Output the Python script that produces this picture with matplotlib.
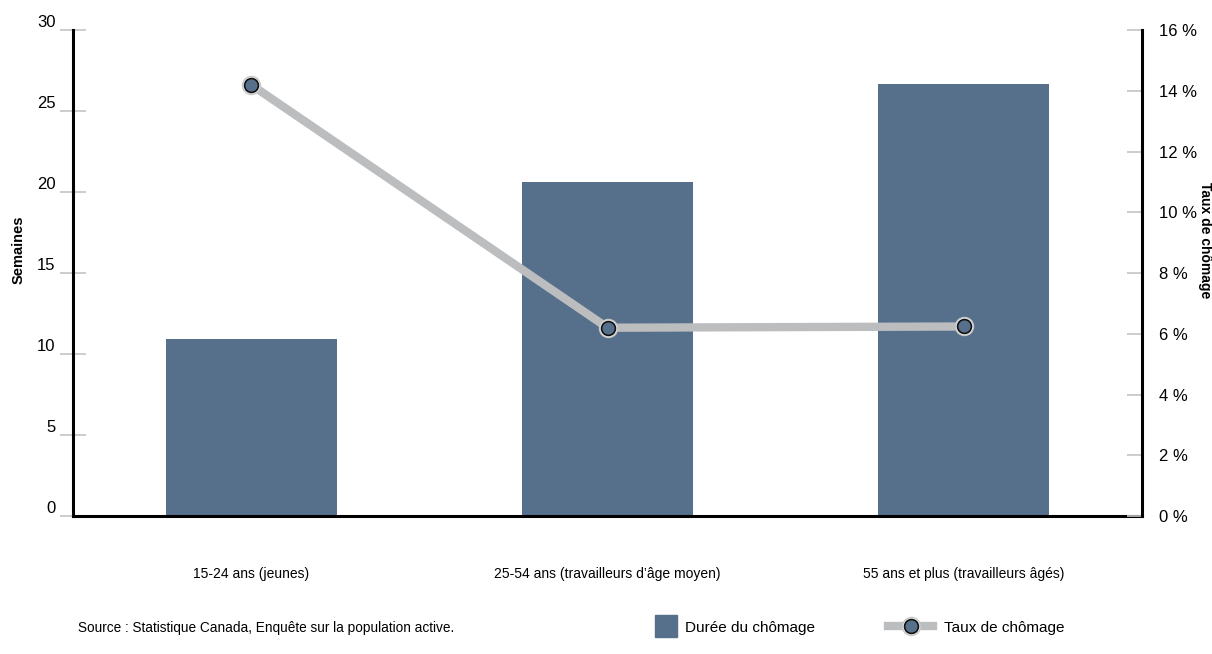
import matplotlib.pyplot as plt
from matplotlib.lines import Line2D
from matplotlib.legend_handler import HandlerTuple

categories = ['15-24 ans (jeunes)', '25-54 ans (travailleurs d\u2019\u00e2ge moyen)', '55 ans et plus (travailleurs \u00e2g\u00e9s)']
duree = [10.9, 20.6, 26.7]      # semaines
taux = [14.2, 6.2, 6.24]        # %
left_ticks = [0, 5, 10, 15, 20, 25, 30]
right_ticks = [0, 2, 4, 6, 8, 10, 12, 14, 16]

BAR = '#566f8a'
LINE = '#bcbdbf'
plt.rcParams['font.family'] = ['Liberation Sans', 'DejaVu Sans']

fig = plt.figure(figsize=(12.12, 6.54), dpi=100)
ax = fig.add_axes([0.0602, 0.211, 0.8821, 0.743])
x = range(len(categories))
bars = ax.bar(x, duree, width=0.48, color=BAR, zorder=2)
ax.set_xlim(-0.5, 2.5)
ax.set_ylim(0, 30)
ax.set_yticks(left_ticks)
ax.set_xticks([])
for s in ['top', 'right']:
    ax.spines[s].set_visible(False)
for s in ['left', 'bottom']:
    ax.spines[s].set_linewidth(2.2)
ax.tick_params(axis='y', direction='inout', length=19, width=1.2, color='#c4c4c4',
               labelsize=12, pad=3)
for lbl in ax.get_yticklabels():
    lbl.set_verticalalignment('bottom')

ax2 = ax.twinx()
ax2.set_ylim(0, 16)
ax2.set_yticks(right_ticks)
ax2.set_yticklabels([f'{t} %' for t in right_ticks])
for s in ['top', 'left', 'bottom']:
    ax2.spines[s].set_visible(False)
ax2.spines['right'].set_linewidth(2.2)
ax2.tick_params(axis='y', direction='in', length=11, width=1.2, color='#c4c4c4',
                labelsize=12, pad=12)
ax2.plot(x, taux, color=LINE, lw=6, solid_capstyle='butt', zorder=3)
ax2.plot(x, taux, 'o', ms=13, mfc='white', mec='#c8c8c8', mew=1, ls='none', zorder=4)
ax2.plot(x, taux, 'o', ms=10, mfc=BAR, mec='#111111', mew=1.2, ls='none', zorder=5)

for i, c in enumerate(categories):
    ax.text(i, -0.12, c, transform=ax.get_xaxis_transform(), ha='center', va='center',
            fontsize=10)

fig.text(0.015, 0.618, 'Semaines', rotation=90, ha='center', va='center',
         fontsize=10.5, fontweight='bold')
fig.text(0.994, 0.633, 'Taux de ch\u00f4mage', rotation=270, ha='center', va='center',
         fontsize=10, fontweight='bold')
fig.text(0.064, 0.04, 'Source : Statistique Canada, Enqu\u00eate sur la population active.',
         ha='left', va='center', fontsize=9.8)

# two separate legends so each handle keeps its own width
h_bar = Line2D([], [], marker='s', ms=16, color=BAR, ls='none')
h_line = (Line2D([], [], color=LINE, lw=6),
          Line2D([], [], marker='o', ms=13, mfc='white', mec='#c8c8c8', ls='none'),
          Line2D([], [], marker='o', ms=10, mfc=BAR, mec='#111111', mew=1.2, ls='none'))
fig.legend([h_bar], ['Dur\u00e9e du ch\u00f4mage'],
           loc='center left', bbox_to_anchor=(0.529, 0.04), frameon=False,
           prop={'size': 11}, handlelength=1.45, handletextpad=0.5)
fig.legend([h_line], ['Taux de ch\u00f4mage'],
           handler_map={tuple: HandlerTuple(ndivide=1)},
           loc='center left', bbox_to_anchor=(0.721, 0.04), frameon=False,
           prop={'size': 11}, handlelength=3.0, handletextpad=0.7)

fig.savefig('out.png', dpi=100)
